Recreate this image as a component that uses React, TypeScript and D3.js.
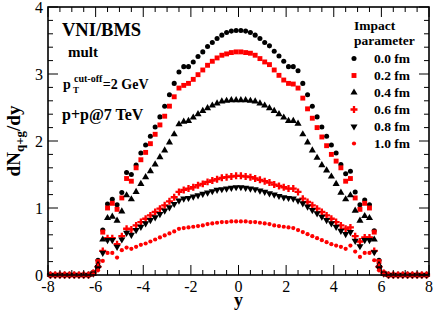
import React from "react";
import * as d3 from "d3";

const rapidity = [-7.9,-7.7,-7.5,-7.3,-7.1,-6.9,-6.7,-6.5,-6.3,-6.1,-5.9,-5.7,-5.5,-5.3,-5.1,-4.9,-4.7,-4.5,-4.3,-4.1,-3.9,-3.7,-3.5,-3.3,-3.1,-2.9,-2.7,-2.5,-2.3,-2.1,-1.9,-1.7,-1.5,-1.3,-1.1,-0.9,-0.7,-0.5,-0.3,-0.1,0.1,0.3,0.5,0.7,0.9,1.1,1.3,1.5,1.7,1.9,2.1,2.3,2.5,2.7,2.9,3.1,3.3,3.5,3.7,3.9,4.1,4.3,4.5,4.7,4.9,5.1,5.3,5.5,5.7,5.9,6.1,6.3,6.5,6.7,6.9,7.1,7.3,7.5,7.7,7.9];

const b00 = [0,0,0,0,0,0,0,0,0,
  0.04,0.22,0.67,1.06,1.13,1.05,1.23,1.53,1.50,1.64,1.82,1.94,2.07,2.21,2.36,2.52,2.69,2.86,3.03,3.11,3.11,3.18,3.26,3.33,3.41,3.47,3.53,3.58,3.62,3.64,3.65,
  3.65,3.64,3.62,3.58,3.53,3.47,3.42,3.34,3.27,3.19,3.11,3.11,3.05,2.86,2.69,2.52,2.36,2.21,2.07,1.94,1.82,1.65,1.51,1.55,1.24,1.05,1.12,1.05,0.66,0.22,0.03,
  0,0,0,0,0,0,0,0,0];
const b02 = [0,0,0,0,0,0,0,0,0,
  0.03,0.20,0.64,1.00,1.07,0.98,1.15,1.44,1.40,1.60,1.72,1.83,1.96,2.10,2.24,2.37,2.52,2.66,2.79,2.83,2.86,2.92,2.99,3.06,3.13,3.19,3.24,3.28,3.30,3.32,3.33,
  3.33,3.32,3.31,3.28,3.23,3.18,3.14,3.06,2.98,2.91,2.86,2.85,2.79,2.64,2.48,2.34,2.20,2.06,1.93,1.80,1.70,1.60,1.40,1.44,1.15,0.98,1.07,1.00,0.64,0.20,0.03,
  0,0,0,0,0,0,0,0,0];
const b04 = [0,0,0,0,0,0,0,0,0,
  0.02,0.15,0.53,0.85,0.87,0.81,0.95,1.19,1.13,1.24,1.36,1.46,1.55,1.65,1.76,1.86,1.98,2.10,2.25,2.29,2.30,2.35,2.40,2.45,2.49,2.53,2.56,2.59,2.60,2.61,2.61,
  2.61,2.61,2.60,2.59,2.56,2.53,2.49,2.45,2.40,2.35,2.30,2.30,2.26,2.10,1.98,1.86,1.75,1.64,1.56,1.47,1.36,1.23,1.13,1.19,0.96,0.81,0.88,0.85,0.53,0.15,0.02,
  0,0,0,0,0,0,0,0,0];
const b06 = [0,0,0,0,0,0,0,0,0,
  0.03,0.12,0.36,0.55,0.55,0.46,0.58,0.69,0.68,0.74,0.79,0.84,0.89,0.94,0.99,1.04,1.10,1.16,1.24,1.27,1.29,1.31,1.34,1.36,1.39,1.41,1.43,1.45,1.46,1.47,1.48,
  1.48,1.47,1.46,1.44,1.42,1.40,1.38,1.35,1.33,1.31,1.29,1.29,1.24,1.14,1.09,1.04,0.99,0.94,0.89,0.84,0.79,0.74,0.69,0.71,0.58,0.50,0.56,0.56,0.36,0.12,0.03,
  0,0,0,0,0,0,0,0,0];
const b08 = [0,0,0,0,0,0,0,0,0,
  0.02,0.10,0.33,0.52,0.52,0.42,0.53,0.63,0.60,0.67,0.72,0.77,0.82,0.86,0.91,0.96,1.01,1.06,1.11,1.14,1.15,1.17,1.19,1.21,1.23,1.25,1.27,1.28,1.29,1.30,1.31,
  1.31,1.30,1.29,1.28,1.26,1.24,1.22,1.20,1.18,1.16,1.15,1.14,1.11,1.07,1.02,0.97,0.92,0.87,0.82,0.77,0.72,0.66,0.61,0.64,0.51,0.43,0.52,0.52,0.34,0.10,0.02,
  0,0,0,0,0,0,0,0,0];
const b10 = [0,0,0,0,0,0,0,0,0,
  0.01,0.07,0.21,0.33,0.33,0.26,0.37,0.41,0.39,0.42,0.45,0.47,0.50,0.53,0.56,0.59,0.62,0.65,0.69,0.70,0.71,0.72,0.73,0.74,0.76,0.77,0.78,0.79,0.79,0.80,0.80,
  0.80,0.80,0.79,0.79,0.78,0.77,0.76,0.74,0.73,0.72,0.71,0.70,0.67,0.64,0.61,0.58,0.55,0.52,0.49,0.46,0.44,0.42,0.39,0.44,0.35,0.27,0.33,0.33,0.22,0.07,0.01,
  0,0,0,0,0,0,0,0,0];

const seriesLabels = ["0.0 fm", "0.2 fm", "0.4 fm", "0.6 fm", "0.8 fm", "1.0 fm"];
const seriesValues = [b00, b02, b04, b06, b08, b10];
const xTickLabels = ["-8", "-6", "-4", "-2", "0", "2", "4", "6", "8"];
const yTickLabels = ["0", "1", "2", "3", "4"];

const styles = [
  { type: d3.symbolCircle, size: 20, color: "#000", rot: 0 },
  { type: d3.symbolSquare, size: 24, color: "#ff0000", rot: 0 },
  { type: d3.symbolTriangle, size: 22, color: "#000", rot: 0 },
  { type: d3.symbolCross, size: 27, color: "#ff0000", rot: 0 },
  { type: d3.symbolTriangle, size: 22, color: "#000", rot: 180 },
  { type: d3.symbolCircle, size: 14, color: "#ff0000", rot: 0 },
];

const W = 436, H = 312;
const L = 48, R = 429, T = 7, B = 275;

export default function App() {
  const x = d3.scaleLinear().domain([-8, 8]).range([L, R]);
  const y = d3.scaleLinear().domain([0, 4]).range([B, T]);
  const serif = "'Liberation Serif', 'Times New Roman', serif";

  const xMinor = d3.range(-8, 8.001, 0.5);
  const yMinor = d3.range(0, 4.001, 0.2);
  const ticks: JSX.Element[] = [];
  xMinor.forEach((v, i) => {
    const major = Math.abs(v - Math.round(v / 2) * 2) < 1e-6;
    const len = major ? 10 : 5;
    const px = x(v);
    ticks.push(<line key={"xb" + i} x1={px} x2={px} y1={B} y2={B - len} stroke="#000" strokeWidth={1} />);
    ticks.push(<line key={"xt" + i} x1={px} x2={px} y1={T} y2={T + len} stroke="#000" strokeWidth={1} />);
  });
  yMinor.forEach((v, i) => {
    const major = Math.abs(v - Math.round(v)) < 1e-6;
    const len = major ? 10 : 5;
    const py = y(v);
    ticks.push(<line key={"yl" + i} x1={L} x2={L + len} y1={py} y2={py} stroke="#000" strokeWidth={1} />);
    ticks.push(<line key={"yr" + i} x1={R} x2={R - len} y1={py} y2={py} stroke="#000" strokeWidth={1} />);
  });

  const marks: JSX.Element[] = [];
  seriesValues.forEach((vals, si) => {
    const st = styles[si];
    const path = d3.symbol().type(st.type).size(st.size)() as string;
    vals.forEach((v, i) => {
      marks.push(
        <path key={`m${si}-${i}`} d={path} fill={st.color}
          transform={`translate(${x(rapidity[i])},${y(v)}) rotate(${st.rot})`} />
      );
    });
  });

  const legX = 354;
  const legY0 = 58.5;
  const legDy = 17;

  return (
    <svg width={W} height={H} style={{ position: "fixed", left: 0, top: 0, background: "#fff" }}
      fontFamily={serif}>
      <rect x={0} y={0} width={W} height={H} fill="#fff" />
      {marks}
      {ticks}
      <rect x={L} y={T} width={R - L} height={B - T} fill="none" stroke="#000" strokeWidth={1.6} />
      {xTickLabels.map((t, i) => (
        <text key={"xl" + i} x={x(+t)} y={292} fontSize={16} textAnchor="middle">{t}</text>
      ))}
      {yTickLabels.map((t, i) => (
        <text key={"yl" + i} x={43} y={y(+t) + 5.5} fontSize={16} textAnchor="end">{t}</text>
      ))}
      <text x={x(0)} y={306} fontSize={18} fontWeight="bold" textAnchor="middle">y</text>
      <text transform={`translate(20,141) rotate(-90)`} fontSize={19} fontWeight="bold" textAnchor="middle">
        dN<tspan fontSize={13} dy={4}>q+g</tspan><tspan dy={-4}>/dy</tspan>
      </text>
      <text x={62} y={36} fontSize={18.5} fontWeight="bold">VNI/BMS</text>
      <text x={68} y={57} fontSize={15} fontWeight="bold">mult</text>
      <text x={63} y={89} fontSize={14} fontWeight="bold">
        p<tspan x={73} dy={4} fontSize={9}>T</tspan>
        <tspan x={74} dy={-11} fontSize={10}>cut-off</tspan>
        <tspan dx={0.5} dy={7} fontSize={14}>=2 GeV</tspan>
      </text>
      <text x={62} y={120} fontSize={16} fontWeight="bold">p+p@7 TeV</text>
      <text x={354} y={30} fontSize={13.5} fontWeight="bold">Impact</text>
      <text x={354} y={45} fontSize={13.5} fontWeight="bold">parameter</text>
      {seriesLabels.map((lab, i) => {
        const st = styles[i];
        const path = d3.symbol().type(st.type).size(st.size)() as string;
        const cy = legY0 + i * legDy;
        return (
          <g key={"lg" + i}>
            <path d={path} fill={st.color} transform={`translate(${legX},${cy}) rotate(${st.rot})`} />
            <text x={374} y={cy + 4.5} fontSize={13.5} fontWeight="bold">{lab}</text>
          </g>
        );
      })}
    </svg>
  );
}
